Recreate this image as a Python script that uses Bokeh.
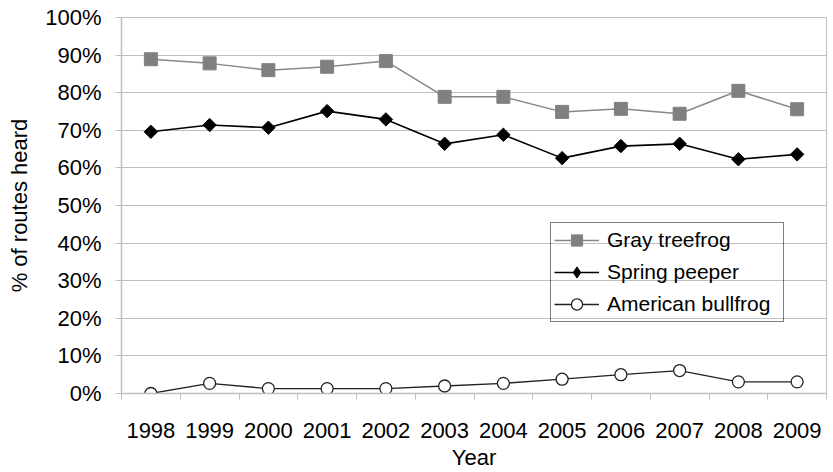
from bokeh.plotting import figure
from bokeh.models import Range1d, FixedTicker, NumeralTickFormatter, Legend, LegendItem
from bokeh.embed import file_html
from bokeh.resources import INLINE
import numpy as np

years = [1998, 1999, 2000, 2001, 2002, 2003, 2004, 2005, 2006, 2007, 2008, 2009]
gray_treefrog = [0.889, 0.878, 0.860, 0.869, 0.884, 0.789, 0.789, 0.749, 0.757, 0.744, 0.805, 0.756]
spring_peeper = [0.696, 0.714, 0.707, 0.751, 0.729, 0.664, 0.688, 0.626, 0.658, 0.664, 0.623, 0.636]
american_bullfrog = [0.000, 0.027, 0.013, 0.013, 0.013, 0.020, 0.027, 0.038, 0.050, 0.061, 0.031, 0.031]
y_ticks = [0.0, 0.1, 0.2, 0.3, 0.4, 0.5, 0.6, 0.7, 0.8, 0.9, 1.0]
boundaries = [y - 0.5 for y in years] + [years[-1] + 0.5]

FONT = "Liberation Sans"
GRID = "#bfbfbf"

p = figure(width=833, height=472, output_backend="svg", toolbar_location=None,
           x_range=Range1d(1997.5, 2009.5), y_range=Range1d(0, 1),
           min_border_left=121, min_border_right=7, min_border_top=17, min_border_bottom=78)

p.outline_line_color = GRID
p.xgrid.grid_line_color = None
p.ygrid.grid_line_color = GRID
p.ygrid.ticker = FixedTicker(ticks=y_ticks)

p.xaxis.ticker = FixedTicker(ticks=years, minor_ticks=boundaries)
p.xaxis.major_tick_line_color = None
p.xaxis.major_tick_out = 0
p.xaxis.major_tick_in = 0
p.xaxis.minor_tick_line_color = GRID
p.xaxis.minor_tick_out = 6
p.xaxis.minor_tick_in = 0
p.xaxis.major_label_standoff = 23
p.xaxis.axis_label = "Year"
p.xaxis.axis_label_standoff = 4

p.yaxis.ticker = FixedTicker(ticks=y_ticks)
p.yaxis.formatter = NumeralTickFormatter(format="0%")
p.yaxis.major_tick_line_color = GRID
p.yaxis.major_tick_out = 6
p.yaxis.major_tick_in = 0
p.yaxis.minor_tick_line_color = None
p.yaxis.major_label_standoff = 14
p.yaxis.axis_label = "% of routes heard"
p.yaxis.axis_label_standoff = 10

for ax in (p.xaxis, p.yaxis):
    ax.axis_line_color = GRID
    ax.axis_line_width = 1.5
    ax.major_label_text_font = FONT
    ax.major_label_text_font_size = "22px"
    ax.major_label_text_color = "black"
    ax.axis_label_text_font = FONT
    ax.axis_label_text_font_size = "22px"
    ax.axis_label_text_font_style = "normal"
    ax.axis_label_text_color = "black"

l1 = p.line(years, gray_treefrog, line_color="#888888", line_width=1.5)
m1 = p.scatter(years, gray_treefrog, marker="square", size=13, fill_color="#808080", line_color="#808080")
l2 = p.line(years, spring_peeper, line_color="black", line_width=1.6)
m2 = p.scatter(years, spring_peeper, marker="square", angle=np.pi / 4, size=9.5, fill_color="black", line_color="black")
m2_key = p.scatter(years, spring_peeper, marker="diamond", fill_color="black", line_color="black", visible=False)
l3 = p.line(years, american_bullfrog, line_color="#222222", line_width=1.3)
m3 = p.scatter(years, american_bullfrog, marker="circle", size=12, fill_color="white", line_color="#222222", line_width=1.3)

legend = Legend(items=[
    LegendItem(label="Gray treefrog", renderers=[l1, m1]),
    LegendItem(label="Spring peeper", renderers=[l2, m2_key]),
    LegendItem(label="American bullfrog", renderers=[l3, m3]),
], location=(429, 71))
legend.background_fill_alpha = 0
legend.border_line_color = "black"
legend.border_line_width = 1
legend.padding = 3
legend.margin = 0
legend.spacing = 4
legend.glyph_width = 45
legend.glyph_height = 28
legend.label_height = 28
legend.label_width = 173
legend.label_standoff = 8
legend.label_text_font = FONT
legend.label_text_font_size = "21px"
legend.label_text_color = "black"
p.add_layout(legend, "center")

open("out.html", "w").write(file_html(p, INLINE))
